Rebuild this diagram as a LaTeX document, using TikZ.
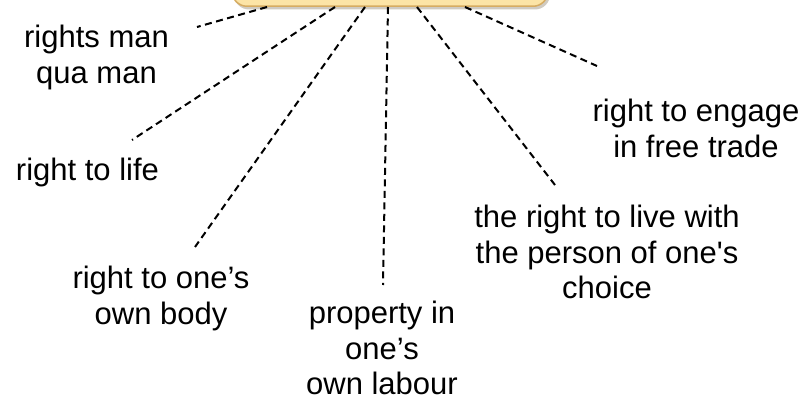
\documentclass[tikz,border=0pt]{standalone}
\usepackage{fontspec}
\setmainfont{Liberation Sans}
\definecolor{boxfill}{RGB}{252,228,166}
\definecolor{boxline}{RGB}{214,172,98}
\definecolor{shadowc}{RGB}{150,140,120}
\begin{document}
\begin{tikzpicture}[x=1pt,y=-1pt,
  lbl/.style={align=center,inner sep=0pt,anchor=north,font=\fontsize{31}{35.5}\selectfont},
  link/.style={draw=black,line width=2pt,dash pattern=on 7pt off 4.5pt},
  topbox/.style={draw=boxline,fill=boxfill,line width=1.5pt,rounded corners=15pt,minimum width=316pt,minimum height=80pt,inner sep=0pt}]
\useasboundingbox (0,0) rectangle (806,401);
\clip (0,0) rectangle (806,401);
\fill[shadowc,opacity=0.45,rounded corners=15pt] (234,-80) rectangle (550,9.5);
\node[topbox,anchor=south] (hub) at (390,7) {};
% labels
\node[lbl] (n1) at (96.5,25) {rights man\\qua man};
\node[lbl] (n2) at (87.5,158) {right to life};
\node[lbl] (n3) at (161,266) {right to one’s\\own body};
\node[lbl] (n4) at (382,301) {property in\\one’s\\own labour};
\node[lbl] (n5) at (607,205) {the right to live with\\the person of one\textquotesingle s\\choice};
\node[lbl] (n6) at (696,99) {right to engage\\in free trade};
% free ends
\coordinate (e1) at (197,27);
\coordinate (e2) at (132,140);
\coordinate (e3) at (195,247);
\coordinate (e4) at (383,285);
\coordinate (e5) at (555,185);
\coordinate (e6) at (597,66);
% connectors
\draw[link] (hub.south) ++(-123,0) -- (e1);
\draw[link] (hub.south) ++(-55,0) -- (e2);
\draw[link] (hub.south) ++(-25,0) -- (e3);
\draw[link] (hub.south) ++(-2,0) -- (e4);
\draw[link] (hub.south) ++(27,0) -- (e5);
\draw[link] (hub.south) ++(75,0) -- (e6);
\end{tikzpicture}
\end{document}
